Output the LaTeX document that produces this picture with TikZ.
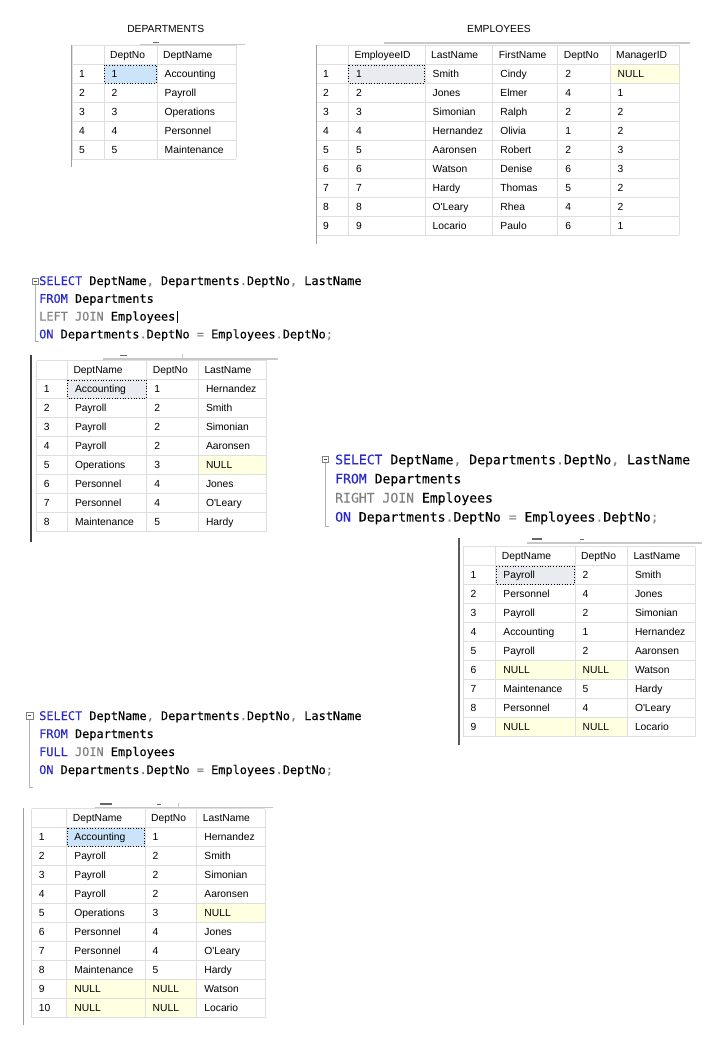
\documentclass[tikz,border=0pt]{standalone}
\usepackage{fontspec}
\setmainfont{Liberation Sans}
\newfontfamily\codefont[FakeBold=0.15]{DejaVu Sans Mono}
\newfontfamily\tabfont{Liberation Sans}
\definecolor{gridgray}{RGB}{222,222,222}
\definecolor{selblue}{RGB}{204,228,250}
\definecolor{selgray}{RGB}{232,236,240}
\definecolor{nullyel}{RGB}{255,255,225}
\definecolor{kwblue}{RGB}{40,40,205}
\definecolor{sqlgray}{RGB}{128,128,128}
\definecolor{bordgray}{RGB}{160,160,160}
\definecolor{tabgray}{RGB}{200,200,200}
\newcommand\sqlkw[1]{\textcolor{kwblue}{#1}}
\newcommand\sqlgr[1]{\textcolor{sqlgray}{#1}}
\newcommand\cursorbar{\rlap{\kern1.5pt\textcolor{black}{\rule[-2.5pt]{0.8pt}{12.5pt}}}}
\newcommand\drawgrid[5]{%
  \pgfmathtruncatemacro\gn{#5+1}%
  \pgfmathsetmacro\gbot{#4+19*(#5+1)}%
  \foreach \i in {0,...,\gn} \draw[gridline] (#2,{#4+19*\i}) -- (#3,{#4+19*\i});
  \foreach \x in {#1} \draw[gridline] (\x,#4) -- (\x,\gbot);
}
\newcommand\restable[7]{%
  \foreach \r/\a/\b/\c in {#7}{
    \pgfmathsetmacro\yb{#6+19*\r+13.2}
    \node[dat] (#1-\r-0) at (#2+7,\yb) {\r};
    \node[dat] (#1-\r-1) at (#3+7.5,\yb) {\a};
    \node[dat] (#1-\r-2) at (#4+7.5,\yb) {\b};
    \node[dat] (#1-\r-3) at (#5+7.5,\yb) {\c};
  }
  \pgfmathsetmacro\yh{#6+13.2}
  \node[hdr] (#1-h1) at (#3+6,\yh) {DeptName};
  \node[hdr] (#1-h2) at (#4+6,\yh) {DeptNo};
  \node[hdr] (#1-h3) at (#5+6,\yh) {LastName};
}
\begin{document}
\begin{tikzpicture}[x=1pt,y=-1pt,
  gridline/.style={draw=gridgray, line width=0.8pt},
  hdr/.style={anchor=base west, inner sep=0pt, font=\tabfont\fontsize{10.3}{12}\selectfont},
  dat/.style={hdr},
  ttl/.style={anchor=base, inner sep=0pt, font=\tabfont\fontsize{10.3}{12}\selectfont},
  code/.style={anchor=base west, inner sep=0pt, font=\codefont\fontsize{11.9}{14}\selectfont},
  codebig/.style={anchor=base west, inner sep=0pt, font=\codefont\fontsize{13.1}{16}\selectfont},
  selbox/.style={draw=black, dotted, line width=0.7pt},
  leftbord/.style={draw=bordgray, line width=0.9pt},
  tabline/.style={draw=tabgray, line width=1.5pt},
  tabdash/.style={draw=black!60, line width=1.3pt},
  foldbox/.style={draw=sqlgray, line width=0.6pt, fill=white},
  foldline/.style={draw=black!30, line width=0.7pt}]
\fill[white] (0,0) rectangle (720,1040);
\useasboundingbox (0,0) rectangle (720,1040);

% ---------------- DEPARTMENTS ----------------
\node[ttl] (t1title) at (165.7,32.7) {DEPARTMENTS};
\fill[selblue] (104,64.5) rectangle (157,83.5);
\drawgrid{72,104,157,236}{72}{236}{45.5}{5}
\draw[selbox] (104.5,65) rectangle (156.5,83);
\draw[leftbord] (71,45) -- (71,167);
\draw[tabline] (140,44.5) -- (245,44.5);
\draw[tabdash] (153,42.5) -- (159,42.5);
\node[hdr] (t1h1) at (110,58.7) {DeptNo};
\node[hdr] (t1h2) at (163,58.7) {DeptName};
\foreach \r/\a/\b in {1/1/Accounting,2/2/Payroll,3/3/Operations,4/4/Personnel,5/5/Maintenance}{
  \pgfmathsetmacro\yb{45.5+19*\r+13.2}
  \node[dat] (t1-\r-0) at (79,\yb) {\r};
  \node[dat] (t1-\r-1) at (111.5,\yb) {\a};
  \node[dat] (t1-\r-2) at (164.5,\yb) {\b};
}

% ---------------- EMPLOYEES ----------------
\node[ttl] (t2title) at (499,32.7) {EMPLOYEES};
\fill[selgray] (348.3,64.5) rectangle (425,83.5);
\fill[nullyel] (610,64.5) rectangle (679,83.5);
\drawgrid{316,348.3,425,492.7,557.7,610,679}{316}{679}{45.5}{9}
\draw[selbox] (348.8,65) rectangle (424.5,83);
\draw[leftbord] (316,45) -- (316,244);
\draw[tabline] (384,43) -- (690,43);
\node[hdr] (t2h1) at (354.3,58.7) {EmployeeID};
\node[hdr] (t2h2) at (431,58.7) {LastName};
\node[hdr] (t2h3) at (498.7,58.7) {FirstName};
\node[hdr] (t2h4) at (563.7,58.7) {DeptNo};
\node[hdr] (t2h5) at (616,58.7) {ManagerID};
\foreach \r/\b/\c/\d/\e in {1/Smith/Cindy/2/NULL,2/Jones/Elmer/4/1,3/Simonian/Ralph/2/2,4/Hernandez/Olivia/1/2,5/Aaronsen/Robert/2/3,6/Watson/Denise/6/3,7/Hardy/Thomas/5/2,8/O'Leary/Rhea/4/2,9/Locario/Paulo/6/1}{
  \pgfmathsetmacro\yb{45.5+19*\r+13.2}
  \node[dat] (t2-\r-0) at (323,\yb) {\r};
  \node[dat] (t2-\r-1) at (355.8,\yb) {\r};
  \node[dat] (t2-\r-2) at (432.5,\yb) {\b};
  \node[dat] (t2-\r-3) at (500.2,\yb) {\c};
  \node[dat] (t2-\r-4) at (565.2,\yb) {\d};
  \node[dat] (t2-\r-5) at (617.5,\yb) {\e};
}

% ---------------- LEFT JOIN query ----------------
\node[code] (q1a) at (39,285) {\sqlkw{SELECT} DeptName\sqlgr{,} Departments\sqlgr{.}DeptNo\sqlgr{,} LastName};
\node[code] (q1b) at (39,302.8) {\sqlkw{FROM} Departments};
\node[code] (q1c) at (39,320.6) {\sqlgr{LEFT JOIN} Employees\cursorbar};
\node[code] (q1d) at (39,338.4) {\sqlkw{ON} Departments\sqlgr{.}DeptNo \sqlgr{=} Employees\sqlgr{.}DeptNo\sqlgr{;}};
\draw[foldline] (35.3,284.3) -- (35.3,341.7) -- (38.5,341.7);
\draw[foldbox] (32.1,277.9) rectangle (38.5,284.3);
\draw[draw=black!70, line width=0.6pt] (33.5,281.1) -- (37.1,281.1);

% ---------------- LEFT JOIN result ----------------
\fill[selgray] (67.3,379.5) rectangle (146.7,398.5);
\fill[nullyel] (198.3,455.5) rectangle (266.7,474.5);
\drawgrid{36.7,67.3,146.7,198.3,266.7}{36.7}{266.7}{360.5}{8}
\draw[selbox] (67.8,380) rectangle (146.2,398);
\draw[draw=black!75, line width=2pt] (31,355) -- (31,542);
\draw[tabline] (103,359) -- (278,359);
\draw[tabdash] (120,355.5) -- (127,355.5);
\draw[draw=tabgray, line width=0.8pt] (182,354) -- (182,359);
\restable{t3}{36.7}{67.3}{146.7}{198.3}{360.5}{1/Accounting/1/Hernandez,2/Payroll/2/Smith,3/Payroll/2/Simonian,4/Payroll/2/Aaronsen,5/Operations/3/NULL,6/Personnel/4/Jones,7/Personnel/4/O'Leary,8/Maintenance/5/Hardy}

% ---------------- RIGHT JOIN query ----------------
\node[codebig] (q2a) at (335,464.3) {\sqlkw{SELECT} DeptName\sqlgr{,} Departments\sqlgr{.}DeptNo\sqlgr{,} LastName};
\node[codebig] (q2b) at (335,483.4) {\sqlkw{FROM} Departments};
\node[codebig] (q2c) at (335,502.5) {\sqlgr{RIGHT JOIN} Employees};
\node[codebig] (q2d) at (335,521.6) {\sqlkw{ON} Departments\sqlgr{.}DeptNo \sqlgr{=} Employees\sqlgr{.}De\cursorbar ptNo\sqlgr{;}};
\draw[foldline] (325.4,462.6) -- (325.4,526.7) -- (328.6,526.7);
\draw[foldbox] (322.2,456) rectangle (328.6,462.6);
\draw[draw=black!70, line width=0.6pt] (323.6,459.3) -- (327.2,459.3);

% ---------------- RIGHT JOIN result ----------------
\fill[selgray] (495.7,565.5) rectangle (575,584.5);
\fill[nullyel] (495.7,660.5) rectangle (627.3,679.5);
\fill[nullyel] (495.7,717.5) rectangle (627.3,736.5);
\drawgrid{463.3,495.7,575,627.3,695}{463.3}{695}{546.5}{9}
\draw[selbox] (496.2,566) rectangle (574.5,584);
\draw[draw=black!65, line width=1.3pt] (459,538) -- (459,745);
\draw[tabline] (527,543) -- (702,543);
\draw[tabdash] (532,539) -- (542,539);
\draw[tabdash] (580,539.5) -- (584,539.5);
\restable{t4}{463.3}{495.7}{575}{627.3}{546.5}{1/Payroll/2/Smith,2/Personnel/4/Jones,3/Payroll/2/Simonian,4/Accounting/1/Hernandez,5/Payroll/2/Aaronsen,6/NULL/NULL/Watson,7/Maintenance/5/Hardy,8/Personnel/4/O'Leary,9/NULL/NULL/Locario}

% ---------------- FULL JOIN query ----------------
\node[code] (q3a) at (39,720) {\sqlkw{SELECT} DeptName\sqlgr{,} Departments\sqlgr{.}DeptNo\sqlgr{,} LastName};
\node[code] (q3b) at (39,738) {\sqlkw{FROM} Departments};
\node[code] (q3c) at (39,756) {\sqlkw{FULL} \sqlgr{JOIN} Employees};
\node[code] (q3d) at (39,774) {\sqlkw{ON} Departments\sqlgr{.}DeptNo \sqlgr{=} Employees\sqlgr{.}DeptNo\sqlgr{;}};
\draw[foldline] (29.6,718.8) -- (29.6,787) -- (32.6,787);
\draw[foldbox] (26.4,712.4) rectangle (32.8,718.8);
\draw[draw=black!70, line width=0.6pt] (27.8,715.6) -- (31.4,715.6);

% ---------------- FULL JOIN result ----------------
\fill[selblue] (66.7,827.5) rectangle (145,846.5);
\fill[nullyel] (196.7,903.5) rectangle (265,922.5);
\fill[nullyel] (66.7,979.5) rectangle (196.7,1017.5);
\drawgrid{31.7,66.7,145,196.7,265}{31.7}{265}{808.5}{10}
\draw[selbox] (67.2,828) rectangle (144.5,846);
\draw[leftbord] (23.5,808) -- (23.5,1025);
\draw[tabline] (95,807.5) -- (273,807.5);
\draw[tabdash] (100,804) -- (112,804);
\draw[tabdash] (157,804.5) -- (161,804.5);
\draw[draw=tabgray, line width=0.8pt] (178,803) -- (178,807.5);
\restable{t5}{31.7}{66.7}{145}{196.7}{808.5}{1/Accounting/1/Hernandez,2/Payroll/2/Smith,3/Payroll/2/Simonian,4/Payroll/2/Aaronsen,5/Operations/3/NULL,6/Personnel/4/Jones,7/Personnel/4/O'Leary,8/Maintenance/5/Hardy,9/NULL/NULL/Watson,10/NULL/NULL/Locario}
\end{tikzpicture}
\end{document}
